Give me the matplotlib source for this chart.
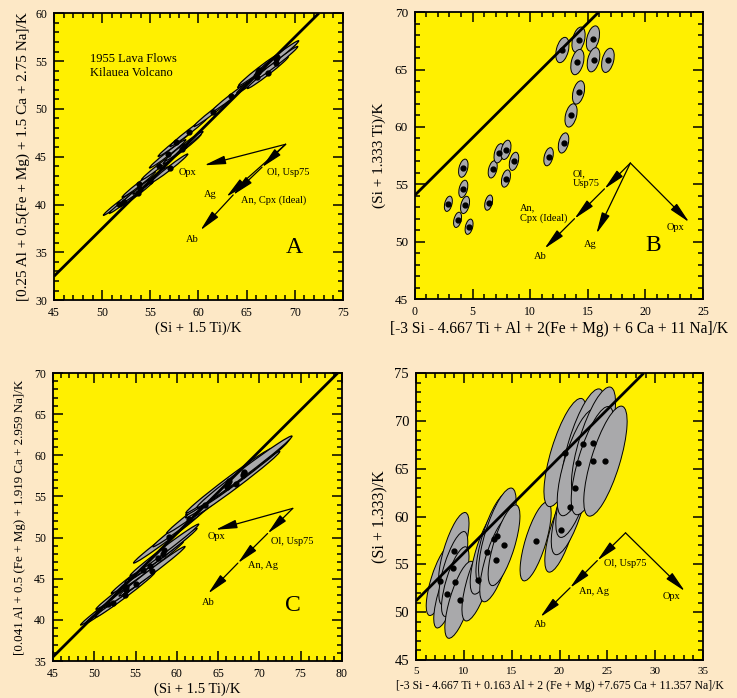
import matplotlib
matplotlib.use("Agg")
import matplotlib.pyplot as plt
from matplotlib.patches import Ellipse
from matplotlib.ticker import MultipleLocator

plt.rcParams['font.family'] = ['Liberation Serif', 'DejaVu Serif']

PAGE = '#fde8c6'
PANEL = '#fff000'
GREY = '#a9a9ab'

# --- panel A: (Si + 1.5 Ti)/K against [0.25 Al + 0.5(Fe+Mg) + 1.5 Ca + 2.75 Na]/K
a_x = [51.7, 52.3, 53.7, 53.8, 53.9, 55.0, 55.9, 56.8, 57.0, 57.7, 58.3,
       58.5, 59.0, 61.5, 63.4, 66.1, 66.2, 66.3, 67.2, 68.0, 68.1, 68.2]
a_y = [40.1, 40.3, 41.2, 42.1, 41.6, 42.5, 44.0, 45.3, 43.8, 46.5, 45.8,
       46.1, 47.6, 49.7, 51.3, 53.3, 53.9, 54.1, 53.8, 55.2, 54.8, 55.4]
a_err = [2.0, 2.0, 2.2, 2.2, 2.2, 2.3, 2.3, 2.4, 2.4, 2.4, 2.5,
         2.5, 2.5, 2.5, 2.6, 2.7, 2.7, 2.7, 2.7, 2.8, 2.8, 2.8]
a_line = [(45.0, 32.5), (72.5, 60.0)]
a_origin = (69.05, 46.3)
a_tips = {'Ol': (66.6, 43.9), 'An': (63.6, 41.0), 'Ab': (60.2, 37.3),
          'Ag': (62.9, 40.8), 'Opx': (60.6, 44.1)}
a_paths = [['Ol', 'An', 'Ab'], ['Ag'], ['Opx']]

# --- panel B: [-3 Si - 4.667 Ti + Al + 2(Fe+Mg) + 6 Ca + 11 Na]/K against (Si + 1.333 Ti)/K
b_x = [2.9, 3.7, 4.2, 4.2, 4.35, 4.7, 6.4, 6.75, 7.3, 7.9, 7.9, 8.6,
       11.6, 12.9, 13.55, 14.2, 12.8, 14.2, 14.1, 15.45, 15.5, 16.75]
b_y = [53.3, 51.9, 56.4, 54.6, 53.2, 51.3, 53.4, 56.3, 57.7, 58.0, 55.5, 57.0,
       57.4, 58.6, 61.0, 63.0, 66.7, 67.6, 65.65, 67.7, 65.85, 65.8]
b_err = [0.68, 0.68, 0.81, 0.77, 0.77, 0.68, 0.68, 0.77, 0.86, 0.86, 0.77, 0.81,
         0.81, 0.9, 1.04, 1.04, 1.13, 1.13, 1.13, 1.13, 1.08, 1.08]
b_line = [(0.0, 54.05), (15.95, 70.0)]
b_origin = (18.7, 56.85)
b_tips = {'Ol': (16.45, 54.6), 'An': (13.85, 52.0), 'Ab': (11.25, 49.4),
          'Ag': (15.75, 50.7), 'Opx': (23.8, 51.7)}
b_paths = [['Ol', 'An', 'Ab'], ['Ag'], ['Opx']]

# --- panel C: (Si + 1.5 Ti)/K against [0.041 Al + 0.5(Fe+Mg) + 1.919 Ca + 2.959 Na]/K
c_x = a_x
c_y = [41.9, 42.1, 43.0, 44.0, 43.6, 44.4, 46.1, 46.5, 45.9, 47.5, 48.0,
       48.5, 50.1, 52.2, 54.0, 56.2, 56.6, 56.9, 56.5, 57.6, 57.8, 58.0]
c_err = [4.2, 4.3, 4.5, 4.5, 4.6, 4.8, 4.8, 5.0, 5.0, 5.0, 5.2,
         5.2, 5.3, 5.5, 5.8, 6.3, 6.4, 6.5, 6.6, 6.8, 7.0, 7.2]
c_line = [(45.0, 35.5), (79.5, 70.0)]
c_origin = (74.05, 53.55)
c_tips = {'Ol': (71.0, 50.5), 'An': (67.4, 46.9), 'Ab': (63.8, 43.2),
          'Opx': (64.7, 50.95)}
c_paths = [['Ol', 'An', 'Ab'], ['Opx']]

# --- panel D: [-3 Si - 4.667 Ti + 0.163 Al + ...]/K against (Si + 1.333)/K
d_x = [7.5, 8.25, 8.95, 8.9, 9.1, 9.6, 11.5, 12.4, 13.15, 13.5, 13.4, 14.2,
       17.5, 20.2, 21.1, 21.65, 20.6, 22.45, 21.95, 23.55, 23.45, 24.8]
d_y = b_y
d_err = [3.8, 3.7, 4.2, 4.0, 3.8, 4.2, 4.5, 4.6, 5.0, 5.2, 4.6, 4.4,
         4.3, 4.6, 5.2, 5.4, 5.9, 6.0, 5.8, 6.1, 5.9, 6.0]
d_line = [(5.0, 51.2), (28.8, 75.0)]
d_origin = (26.9, 58.3)
d_tips = {'Ol': (23.95, 55.4), 'An': (21.1, 52.55), 'Ab': (18.0, 49.5),
          'Opx': (33.1, 52.2)}
d_paths = [['Ol', 'An', 'Ab'], ['Opx']]


def frame(ax, xlim, ylim, xsize, ysize):
    ax.set_facecolor(PANEL)
    ax.set_xlim(*xlim)
    ax.set_ylim(*ylim)
    ax.xaxis.set_major_locator(MultipleLocator(5))
    ax.yaxis.set_major_locator(MultipleLocator(5))
    ax.xaxis.set_minor_locator(MultipleLocator(1))
    ax.yaxis.set_minor_locator(MultipleLocator(1))
    ax.tick_params(which='both', direction='in', top=True, right=True,
                   width=1.1, color='black')
    ax.tick_params(which='major', length=7, pad=5)
    ax.tick_params(which='minor', length=3.5)
    ax.tick_params(axis='x', labelsize=xsize)
    ax.tick_params(axis='y', labelsize=ysize)
    for s in ax.spines.values():
        s.set_linewidth(1.3)


def samples(ax, xs, ys, errs, ratio, angle, edge=0.7):
    for x, y, e in zip(xs, ys, errs):
        ax.add_patch(Ellipse((x, y), 2 * e, 2 * e * ratio, angle=angle,
                             facecolor=GREY, edgecolor='black', lw=edge, zorder=2))
    ax.plot(xs, ys, 'o', color='black', ms=3.5, zorder=4)


def trend(ax, pts):
    (x0, y0), (x1, y1) = pts
    ax.plot([x0, x1], [y0, y1], color='black', lw=2.0, zorder=3,
            solid_capstyle='butt')


def vectors(ax, origin, tips, paths):
    for path in paths:
        start = origin
        for key in path:
            end = tips[key]
            ax.annotate('', xy=end, xytext=start, zorder=5,
                        arrowprops=dict(arrowstyle='-|>,head_length=1.0,head_width=0.2',
                                        color='black', lw=0.9, mutation_scale=13,
                                        shrinkA=0, shrinkB=0))
            start = end


fig = plt.figure(figsize=(7.37, 6.98), dpi=100, facecolor=PAGE)

ax_a = fig.add_axes([0.0733, 0.570, 0.392, 0.411])
ax_b = fig.add_axes([0.563, 0.5716, 0.3908, 0.411])
ax_c = fig.add_axes([0.0719, 0.053, 0.392, 0.4126])
ax_d = fig.add_axes([0.5645, 0.0544, 0.3894, 0.411])

note = dict(fontsize=7.5, zorder=6)

# A
frame(ax_a, (45, 75), (30, 60), 8.5, 8.5)
samples(ax_a, a_x, a_y, a_err, 0.08, 38, edge=0.9)
trend(ax_a, a_line)
vectors(ax_a, a_origin, a_tips, a_paths)
ax_a.set_xlabel('(Si + 1.5 Ti)/K', fontsize=10.5, labelpad=2)
ax_a.set_ylabel('[0.25 Al + 0.5(Fe + Mg) + 1.5 Ca + 2.75 Na]/K', fontsize=11, labelpad=4)
ax_a.text(48.7, 54.5, '1955 Lava Flows\nKilauea Volcano', fontsize=9,
          va='center', linespacing=1.2)
ax_a.text(58.9, 43.4, 'Opx', ha='center', va='center', **note)
ax_a.text(67.1, 43.3, 'Ol, Usp75', ha='left', va='center', **note)
ax_a.text(61.2, 41.0, 'Ag', ha='center', va='center', **note)
ax_a.text(64.4, 40.5, 'An, Cpx (Ideal)', ha='left', va='center', **note)
ax_a.text(59.4, 36.3, 'Ab', ha='center', va='center', **note)
ax_a.text(69.95, 35.5, 'A', fontsize=17, ha='center', va='center')

# B
frame(ax_b, (0, 25), (45, 70), 8.5, 9.5)
samples(ax_b, b_x, b_y, b_err, 0.46, 76)
trend(ax_b, b_line)
vectors(ax_b, b_origin, b_tips, b_paths)
ax_b.set_xlabel('[-3 Si - 4.667 Ti + Al + 2(Fe + Mg) + 6 Ca + 11 Na]/K',
                fontsize=11.2, labelpad=2)
ax_b.set_ylabel('(Si + 1.333 Ti)/K', fontsize=11, labelpad=6)
ax_b.text(13.7, 55.5, 'Ol,\nUsp75', ha='left', va='center', linespacing=1.15, **note)
ax_b.text(9.1, 52.5, 'An,\nCpx (Ideal)', ha='left', va='center', linespacing=1.15, **note)
ax_b.text(10.85, 48.7, 'Ab', ha='center', va='center', **note)
ax_b.text(15.2, 49.75, 'Ag', ha='center', va='center', **note)
ax_b.text(22.6, 51.2, 'Opx', ha='center', va='center', **note)
ax_b.text(20.7, 49.7, 'B', fontsize=17, ha='center', va='center')

# C
frame(ax_c, (45, 80), (35, 70), 8.5, 8.5)
samples(ax_c, c_x, c_y, c_err, 0.06, 37, edge=0.9)
trend(ax_c, c_line)
vectors(ax_c, c_origin, c_tips, c_paths)
ax_c.set_xlabel('(Si + 1.5 Ti)/K', fontsize=10.5, labelpad=2)
ax_c.set_ylabel('[0.041 Al + 0.5 (Fe + Mg) + 1.919 Ca + 2.959 Na]/K', fontsize=9.4, labelpad=6)
ax_c.text(64.8, 50.1, 'Opx', ha='center', va='center', **note)
ax_c.text(71.4, 49.5, 'Ol, Usp75', ha='left', va='center', **note)
ax_c.text(68.6, 46.6, 'An, Ag', ha='left', va='center', **note)
ax_c.text(63.8, 42.1, 'Ab', ha='center', va='center', **note)
ax_c.text(74.05, 41.8, 'C', fontsize=17, ha='center', va='center')

# D
frame(ax_d, (5, 35), (45, 75), 8, 10.5)
samples(ax_d, d_x, d_y, d_err, 0.25, 73)
trend(ax_d, d_line)
vectors(ax_d, d_origin, d_tips, d_paths)
ax_d.set_xlabel('[-3 Si - 4.667 Ti + 0.163 Al + 2 (Fe + Mg) +7.675 Ca + 11.357 Na]/K',
                fontsize=8.5, labelpad=3)
ax_d.set_ylabel('(Si + 1.333)/K', fontsize=11.5, labelpad=4)
ax_d.text(24.7, 55.1, 'Ol, Usp75', ha='left', va='center', **note)
ax_d.text(22.05, 52.2, 'An, Ag', ha='left', va='center', **note)
ax_d.text(17.95, 48.75, 'Ab', ha='center', va='center', **note)
ax_d.text(31.7, 51.6, 'Opx', ha='center', va='center', **note)

fig.savefig('out.png', dpi=100, facecolor=PAGE)
